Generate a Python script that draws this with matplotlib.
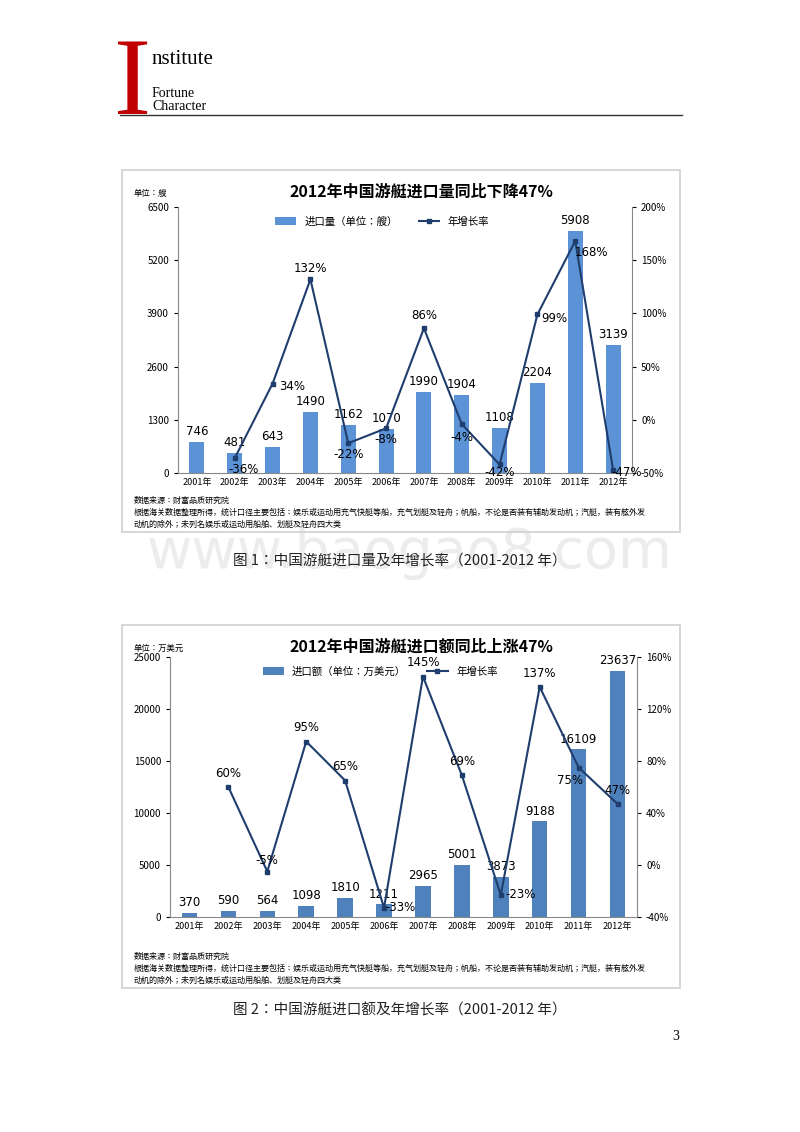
import matplotlib
matplotlib.use("Agg")
import matplotlib.pyplot as plt
from matplotlib.patches import Rectangle
from matplotlib.lines import Line2D

plt.rcParams["font.family"] = ["Noto Sans CJK JP", "DejaVu Sans"]

years = ["2001年", "2002年", "2003年", "2004年", "2005年", "2006年",
         "2007年", "2008年", "2009年", "2010年", "2011年", "2012年"]
qty = [746, 481, 643, 1490, 1162, 1070, 1990, 1904, 1108, 2204, 5908, 3139]
qty_growth = [None, -36, 34, 132, -22, -8, 86, -4, -42, 99, 168, -47]
amount = [370, 590, 564, 1098, 1810, 1211, 2965, 5001, 3873, 9188, 16109, 23637]
amount_growth = [None, 60, -5, 95, 65, -33, 145, 69, -23, 137, 75, 47]

W, H = 800, 1132
fig = plt.figure(figsize=(8, 11.32), dpi=100)

def fx(x): return x / W
def fy(y): return 1 - y / H

# header
fig.text(fx(114), fy(114), "I", fontsize=80, color="#c00000", family="Liberation Serif", va="baseline")
fig.text(fx(152), fy(64), "nstitute", fontsize=15, family="Liberation Serif", va="baseline")
fig.text(fx(152), fy(97), "Fortune", fontsize=10, family="Liberation Serif", va="baseline")
fig.text(fx(152), fy(110), "Character", fontsize=10, family="Liberation Serif", va="baseline")
fig.add_artist(Line2D([fx(120), fx(682)], [fy(115), fy(115)], color="#333333", lw=1))

# watermark
fig.text(fx(410), fy(553), "www.baogao8.com", fontsize=40, color="#ececec",
         ha="center", va="center", family="DejaVu Sans", zorder=0)

note1 = "数据来源：财富品质研究院"
note2 = "根据海关数据整理所得，统计口径主要包括：娱乐或运动用充气快艇等船，充气划艇及轻舟；帆船，不论是否装有辅助发动机；汽艇，装有舷外发"
note3 = "动机的除外；未列名娱乐或运动用船舶、划艇及轻舟四大类"

def chart(box, ax_rect, title, unit, vals, growth, ymax, ystep, rmin, rmax, rstep,
          color, legend_bar, caption, cap_y, lab_off):
    x0, y0, x1, y1 = box
    fig.add_artist(Rectangle((fx(x0), fy(y1)), fx(x1 - x0), (y1 - y0) / H,
                             fill=False, ec="#d0d0d0", lw=1.2))
    ax = fig.add_axes(ax_rect)
    xs = list(range(len(years)))
    ax.bar(xs, vals, width=0.4, color=color, label=legend_bar, zorder=2)
    ax.set_ylim(0, ymax)
    ax.set_yticks(range(0, ymax + 1, ystep))
    ax.set_xlim(-0.5, len(years) - 0.5)
    ax.set_xticks(xs)
    ax.set_xticklabels(years, fontsize=6.5)
    ax.tick_params(axis="y", labelsize=7, length=3)
    ax.tick_params(axis="x", length=0)
    for s in ["top", "right"]:
        ax.spines[s].set_visible(False)
    ax.spines["left"].set_color("#888888")
    ax.spines["bottom"].set_color("#888888")
    for i, v in enumerate(vals):
        ax.text(i, v + ymax * 0.015, str(v), ha="center", va="bottom", fontsize=8.5,
                family="DejaVu Sans")
    ax2 = ax.twinx()
    gx = [i for i, g in enumerate(growth) if g is not None]
    gy = [g for g in growth if g is not None]
    ax2.plot(gx, gy, color="#1f3e6e", marker="s", ms=3.5, lw=1.5, label="年增长率")
    ax2.set_ylim(rmin, rmax)
    ax2.set_yticks(range(rmin, rmax + 1, rstep))
    ax2.set_yticklabels([f"{t}%" for t in range(rmin, rmax + 1, rstep)])
    ax2.tick_params(axis="y", labelsize=7, length=3)
    for s in ["top", "left", "bottom"]:
        ax2.spines[s].set_visible(False)
    ax2.spines["right"].set_color("#888888")
    for x, g in zip(gx, gy):
        dx, dy = lab_off.get(x, (0, 8))
        ax2.annotate(f"{g}%", (x, g), xytext=(dx, dy), textcoords="offset points",
                     ha="center", va="center", fontsize=8.5, family="DejaVu Sans")
    h1, l1 = ax.get_legend_handles_labels()
    h2, l2 = ax2.get_legend_handles_labels()
    ax.legend(h1 + h2, l1 + l2, loc="upper center", bbox_to_anchor=(0.45, 1.0),
              ncol=2, frameon=False, fontsize=7.5, handlelength=2)
    fig.text(fx((x0 + x1) / 2 + 20), fy(y0 + 22), title, ha="center", va="center",
             fontsize=11.5, weight="bold")
    fig.text(fx(x0 + 12), fy(y0 + 23), unit, fontsize=6, va="center")
    fig.text(fx(x0 + 12), fy(y1 - 32), note1, fontsize=5.8, va="center")
    fig.text(fx(x0 + 12), fy(y1 - 20), note2, fontsize=5.8, va="center")
    fig.text(fx(x0 + 12), fy(y1 - 8), note3, fontsize=5.8, va="center")
    fig.text(0.5, fy(cap_y), caption, ha="center", va="center", fontsize=10.5,
             color="#222222")

off1 = {1: (6, -8), 2: (14, -2), 4: (0, -8), 5: (0, -8), 6: (0, 9), 7: (0, -10),
        8: (0, -6), 9: (12, -3), 10: (12, -8), 11: (10, -2)}
chart((122, 170, 680, 532), [fx(178), fy(473), fx(632 - 178), (473 - 207) / H],
      "2012年中国游艇进口量同比下降47%", "单位：艘", qty, qty_growth,
      6500, 1300, -50, 200, 50, "#5b93d6", "进口量（单位：艘）",
      "图 1：中国游艇进口量及年增长率（2001-2012 年）", 561, off1)

off2 = {1: (0, 10), 2: (0, 8), 3: (0, 10), 4: (0, 10), 5: (12, 0), 6: (0, 10),
        7: (0, 10), 8: (14, 0), 9: (0, 10), 10: (-6, -9), 11: (0, 10)}
chart((122, 625, 680, 988), [fx(170), fy(917), fx(637 - 170), (917 - 657) / H],
      "2012年中国游艇进口额同比上涨47%", "单位：万美元", amount, amount_growth,
      25000, 5000, -40, 160, 40, "#4f81bd", "进口额（单位：万美元）",
      "图 2：中国游艇进口额及年增长率（2001-2012 年）", 1010, off2)

fig.text(fx(676), fy(1036), "3", fontsize=10, ha="center", va="center", family="Liberation Serif")

fig.savefig("out.png", dpi=100)
